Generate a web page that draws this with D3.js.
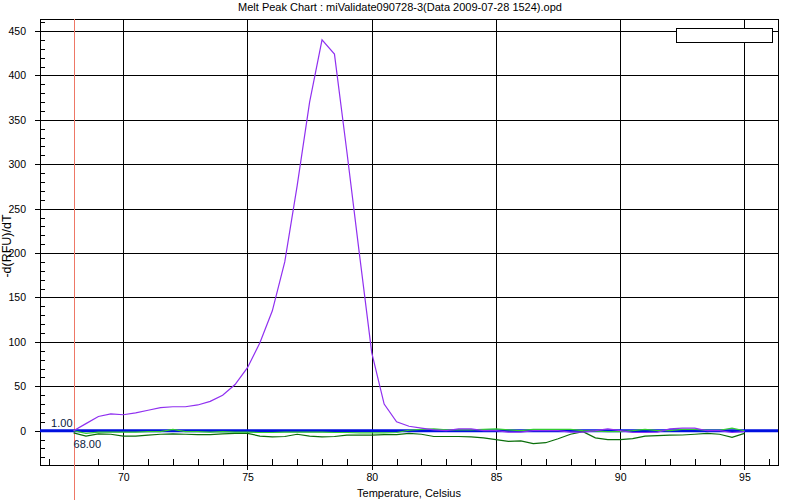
<!DOCTYPE html>
<html><head><meta charset="utf-8">
<script src="https://cdn.jsdelivr.net/npm/d3@7"></script>
<style>body{margin:0;background:#fff}svg{display:block}text{font-family:"Liberation Sans",Arial,sans-serif}</style>
</head><body><svg id="c" width="800" height="500"></svg>
<script>
const titleText = "Melt Peak Chart : miValidate090728-3(Data 2009-07-28 1524).opd";
const xTitle = "Temperature, Celsius";
const yTitle = "-d(RFU)/dT";
const xTicks = [70, 75, 80, 85, 90, 95];
const yTicks = [0, 50, 100, 150, 200, 250, 300, 350, 400, 450];
const markerTemp = 68.0;
const markerValueLabel = "1.00";
const markerTempLabel = "68.00";
const thresholdValue = 0;
const temperature = [68,68.5,69,69.5,70,70.5,71,71.5,72,72.5,73,73.5,74,74.5,75,75.5,76,76.5,77,77.5,78,78.5,79,79.5,80,80.5,81,81.5,82,82.5,83,83.5,84,84.5,85,85.5,86,86.5,87,87.5,88,88.5,89,89.5,90,90.5,91,91.5,92,92.5,93,93.5,94,94.5,95];
const purpleSeries = [0,8,16,19,18,20,23,26,27,27,29,33,40,52,71,99,135,190,276,370,440,424,314,200,88,30,10,5,3,1,0,2,2,0,0,-1.5,-1.5,0,0,0,-1.5,-1.5,0,2,0,-2,-2,-1.5,2,3,3,0,0,-2,-1];
const lightGreenSeries = [0,-3,-1.5,-1.5,-1.5,-1.5,-1,-1,1.5,-1,-1,-1.5,-1,-1.5,-1.5,-2,-2,-1.5,-1.5,-1.5,-1.5,-2,-2,-2.5,-2.5,-2.5,-2,0.5,1.5,2,1,1,1,1.5,2,1,0,1.5,1.5,1.5,1.5,0,-0.5,-1,-1,0,1.5,0,0,1.5,1.5,0.5,0.5,3,0];
const darkGreenSeries = [-2.5,-6,-3.5,-4,-6,-6,-5,-4,-3.5,-4,-4.5,-4.5,-3.5,-3,-3,-6,-7,-6.5,-4,-6,-7,-6.5,-5,-5,-5,-4.5,-4.5,-3,-4,-6.5,-6.5,-6.5,-7,-8,-10,-12,-11.5,-14.5,-13.5,-9,-4,-1,-8,-10,-10,-9,-6,-5.5,-5,-4.8,-4,-3,-4,-7.5,-3];

const L = 40, R = 778, T = 19, B = 465;
const svg = d3.select("#c");
const x = d3.scaleLinear().domain([66.65, 96.35]).range([L, R]);
const y = d3.scaleLinear().domain([-38.6, 463.5]).range([B, T]);

// title
svg.append("text").attr("x", 400).attr("y", 11).attr("text-anchor", "middle")
  .attr("font-size", 11).attr("fill", "#000").text(titleText);

// minor ticks
const xMinor = d3.range(67, 97, 1).filter(v => !xTicks.includes(v));
svg.append("g").attr("transform", `translate(0,${B})`)
  .call(d3.axisBottom(x).tickValues(xMinor).tickSize(-6).tickFormat(""))
  .call(g => g.select(".domain").remove())
  .selectAll("line").attr("stroke", "#000");
const yMinor = d3.range(-30, 461, 10).filter(v => !yTicks.includes(v));
svg.append("g").attr("transform", `translate(${L},0)`)
  .call(d3.axisLeft(y).tickValues(yMinor).tickSize(-5).tickFormat(""))
  .call(g => g.select(".domain").remove())
  .selectAll("line").attr("stroke", "#000");

// major grid + labels
const gx = svg.append("g").attr("transform", `translate(0,${B})`)
  .call(d3.axisBottom(x).tickValues(xTicks).tickSizeInner(-(B - T)).tickSizeOuter(0).tickPadding(9));
gx.select(".domain").remove();
gx.selectAll(".tick line").attr("stroke", "#000").attr("y2", 5).attr("y1", -(B - T));
gx.selectAll("text").attr("font-size", 10.5).attr("fill", "#000").attr("font-family", "Liberation Sans, Arial, sans-serif");
const gy = svg.append("g").attr("transform", `translate(${L},0)`)
  .call(d3.axisLeft(y).tickValues(yTicks).tickSizeOuter(0).tickPadding(8));
gy.select(".domain").remove();
gy.selectAll(".tick line").attr("stroke", "#000").attr("x1", -5).attr("x2", R - L);
gy.selectAll("text").attr("font-size", 10.5).attr("fill", "#000").attr("font-family", "Liberation Sans, Arial, sans-serif");

// frame
svg.append("rect").attr("x", L).attr("y", T).attr("width", R - L).attr("height", B - T)
  .attr("fill", "none").attr("stroke", "#000").attr("stroke-width", 1).attr("shape-rendering", "crispEdges");
svg.selectAll("line").attr("shape-rendering", "crispEdges");

// axis titles
svg.append("text").attr("x", (L + R) / 2).attr("y", 497).attr("text-anchor", "middle")
  .attr("font-size", 11).attr("fill", "#000").text(xTitle);
svg.append("text").attr("transform", `translate(11,${(T + B) / 2 + 4}) rotate(-90)`).attr("text-anchor", "middle")
  .attr("font-size", 12.5).attr("fill", "#000").text(yTitle);

// marker line
svg.append("line").attr("x1", Math.round(x(markerTemp)) + 0.5).attr("x2", Math.round(x(markerTemp)) + 0.5)
  .attr("y1", T).attr("y2", 500).attr("stroke", "#ee7766").attr("stroke-width", 1);
svg.append("text").attr("x", x(markerTemp) - 1).attr("y", y(thresholdValue) - 4).attr("text-anchor", "end")
  .attr("font-size", 11).attr("fill", "#0a1a40").text(markerValueLabel);
svg.append("text").attr("x", x(markerTemp)).attr("y", y(thresholdValue) + 17).attr("text-anchor", "start")
  .attr("font-size", 11).attr("fill", "#0a1a40").text(markerTempLabel);

const line = d3.line().x((d, i) => x(temperature[i])).y(d => y(d));
const curves = [
  {data: darkGreenSeries, color: "#0a6e0a", w: 1.2},
  {data: lightGreenSeries, color: "#33cc33", w: 1.2},
];
// threshold line
svg.append("line").attr("x1", L).attr("x2", R).attr("y1", y(thresholdValue)).attr("y2", y(thresholdValue))
  .attr("stroke", "#0010e0").attr("stroke-width", 3);
curves.forEach(c => svg.append("path").datum(c.data).attr("d", line)
  .attr("fill", "none").attr("stroke", c.color).attr("stroke-width", c.w));
svg.append("path").datum(purpleSeries).attr("d", line)
  .attr("fill", "none").attr("stroke", "#9030f0").attr("stroke-width", 1.2);

// legend box
svg.append("rect").attr("x", 676.5).attr("y", 28.5).attr("width", 96).attr("height", 14)
  .attr("fill", "#fff").attr("stroke", "#000").attr("stroke-width", 1);
</script></body></html>
